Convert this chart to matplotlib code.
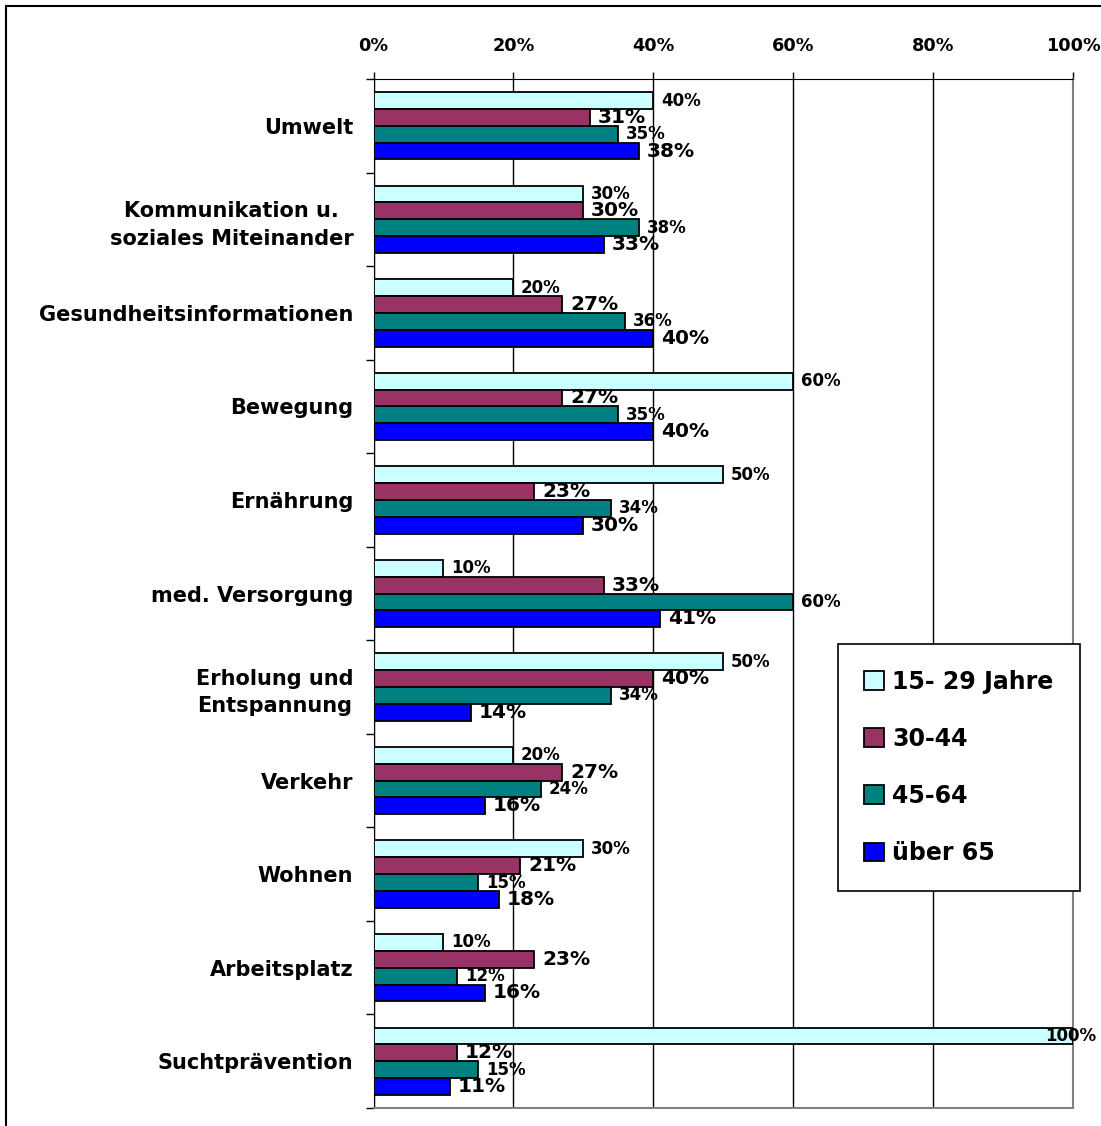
import matplotlib
matplotlib.use("Agg")
import matplotlib.pyplot as plt
import numpy as np
from matplotlib.lines import Line2D

# ---- data ----
categories = ["Umwelt", "Kommunikation u.\nsoziales Miteinander", "Gesundheitsinformationen",
              "Bewegung", "Ernährung", "med. Versorgung", "Erholung und\nEntspannung",
              "Verkehr", "Wohnen", "Arbeitsplatz", "Suchtprävention"]
series_names = ["15- 29 Jahre", "30-44", "45-64", "über 65"]
age_15_29 = [40, 30, 20, 60, 50, 10, 50, 20, 30, 10, 100]
age_30_44 = [31, 30, 27, 27, 23, 33, 40, 27, 21, 23, 12]
age_45_64 = [35, 38, 36, 35, 34, 60, 34, 24, 15, 12, 15]
age_65_up = [38, 33, 40, 40, 30, 41, 14, 16, 18, 16, 11]
x_ticks = [0, 20, 40, 60, 80, 100]

colors = ["#CCFFFF", "#993366", "#008080", "#0000FF"]
label_sizes = [12, 14.5, 12, 14.5]

plt.rcParams['font.family'] = 'DejaVu Sans'
plt.rcParams['font.weight'] = 'bold'

W, H = 1101, 1126
fig = plt.figure(figsize=(W / 100, H / 100), dpi=100)

# outer border (only left and top visible in the reference)
fig.add_artist(Line2D([6 / W, 6 / W], [-0.1, 1 - 6 / H], transform=fig.transFigure, color='black', lw=1.5))
fig.add_artist(Line2D([6 / W, 1.1], [1 - 6 / H, 1 - 6 / H], transform=fig.transFigure, color='black', lw=1.5))

left, right, top, bottom = 373.5, 1073, 79, 1108
ax = fig.add_axes([left / W, 1 - bottom / H, (right - left) / W, (bottom - top) / H])

y = np.arange(len(categories))
h = 0.18
all_series = [age_15_29, age_30_44, age_45_64, age_65_up]

bars = []
for j, vals in enumerate(all_series):
    pos = y + (j - 1.5) * h
    b = ax.barh(pos, vals, h, color=colors[j], edgecolor='black', linewidth=1.3,
                label=series_names[j], zorder=3)
    bars.append(b)
    for yy, v in zip(pos, vals):
        if v >= 100:
            # Excel keeps this one inside the chart area
            ax.annotate(f'{v}%', (v, yy), xytext=(17, 0), textcoords='offset points',
                        ha='right', va='center', fontsize=label_sizes[j], fontweight='bold',
                        annotation_clip=False, zorder=5)
        else:
            ax.annotate(f'{v}%', (v, yy), xytext=(5.5, 0), textcoords='offset points',
                        ha='left', va='center', fontsize=label_sizes[j], fontweight='bold',
                        annotation_clip=False, zorder=5)

ax.set_xlim(0, 100)
ax.set_ylim(len(categories) - 0.5, -0.5)

ax.xaxis.tick_top()
ax.set_xticks(x_ticks)
ax.set_xticklabels([f'{t}%' for t in x_ticks], fontsize=12.7, fontweight='bold')
ax.tick_params(axis='x', direction='out', length=5, width=1, pad=12)

ax.set_yticks(np.arange(-0.5, len(categories), 1))
ax.set_yticklabels([])
ax.set_yticks(y, labels=categories, minor=True)
ax.tick_params(axis='y', which='major', direction='out', length=6, width=1)
ax.tick_params(axis='y', which='minor', length=0, pad=14.5)
for lab in ax.get_yticklabels(minor=True):
    lab.set_fontsize(15)
    lab.set_fontweight('bold')
    lab.set_multialignment('center')
    lab.set_linespacing(1.45)

ax.grid(axis='x', color='black', linewidth=1.0)
ax.set_axisbelow(True)

ax.spines['top'].set_color('black')
ax.spines['left'].set_color('black')
ax.spines['right'].set_color('#808080')
ax.spines['bottom'].set_color('#808080')
ax.spines['right'].set_linewidth(1.5)
ax.spines['bottom'].set_linewidth(1.5)

leg = ax.legend(handles=bars, loc='upper left', bbox_to_anchor=(838 / W, 1 - 644 / H),
                bbox_transform=fig.transFigure, frameon=True, fancybox=False,
                edgecolor='black', framealpha=1, prop={'size': 17, 'weight': 'bold'},
                handlelength=0.85, handleheight=0.85, handletextpad=0.35,
                labelspacing=1.4, borderpad=1.1, borderaxespad=0)
leg.get_frame().set_linewidth(1.2)
leg.set_zorder(10)

plt.savefig('out.png', dpi=100)
